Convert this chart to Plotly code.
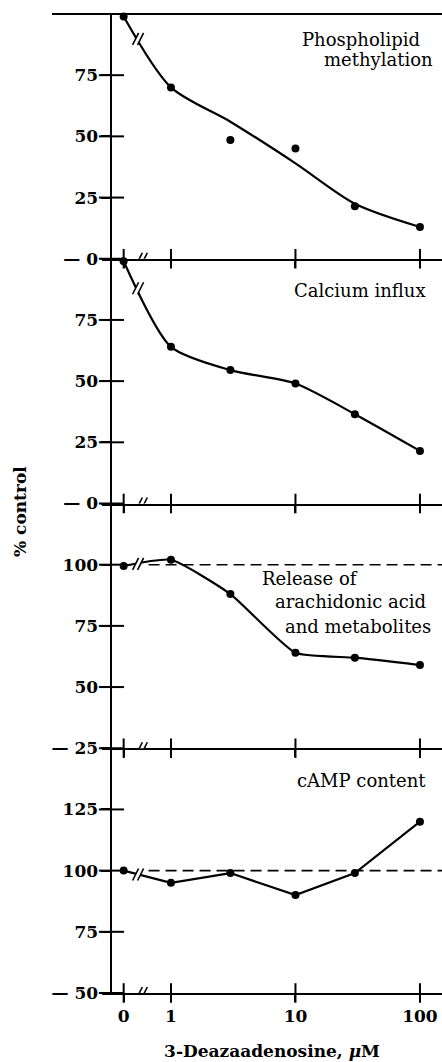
import numpy as np
import plotly.graph_objects as go

# ---------------- data ----------------
conc = [0, 1, 3, 10, 30, 100]                       # 3-Deazaadenosine, µM
methylation_pts = [99, 70, 48.5, 45, 21.5, 13]      # measured points
methylation_fit = [99, 70, 56, 39, 22.5, 13]        # drawn fitted curve
calcium = [99, 64, 54.5, 49, 36.5, 21.5]
arachidonic = [99.5, 102, 88, 64, 62, 59]
camp = [100, 95, 99, 90, 99, 120]

x_tick_conc = [0, 1, 10, 100]
x_tick_labels = ["0", "1", "10", "100"]

panel_ranges = [[0, 100], [0, 100], [25, 125], [50, 150]]
panel_tickvals = [[0, 25, 50, 75], [0, 25, 50, 75], [25, 50, 75, 100], [50, 75, 100, 125]]
panel_ticktext = [["— 0", "25", "50", "75"], ["— 0", "25", "50", "75"],
                  ["— 25", "50", "75", "100"], ["— 50", "75", "100", "125"]]
reference_level = [None, None, 100, 100]

# ---------------- axis geometry ----------------
W, H = 442, 1062
L, R, T, B = 102, 0, 14, 69
ZERO_POS = -0.38           # where "0" sits on the broken log axis
X_RANGE = [-0.554, 2.177]
Y_AXIS_X = -0.478          # data-x where the y axis is drawn
AXIS_BREAK_X = -0.23
LINE_BREAK_X = -0.26


def xpos(c):
    return [ZERO_POS if v == 0 else float(np.log10(v)) for v in c]


X = xpos(conc)
XT = xpos(x_tick_conc)
yaxis_pos = (Y_AXIS_X - X_RANGE[0]) / (X_RANGE[1] - X_RANGE[0])

FONT = "DejaVu Serif"
tickfont = dict(family=FONT, size=17, color="black", weight="bold")
lblfont = dict(family=FONT, size=18, color="black")

fig = go.Figure()

domains = [[0.75, 1.0], [0.5, 0.75], [0.25, 0.5], [0.0, 0.25]]
line_series = [methylation_fit, calcium, arachidonic, camp]
point_series = [methylation_pts, calcium, arachidonic, camp]
line_shapes = ["spline", "spline", "spline", "linear"]
smooth = [0.8, 0.7, 0.5, 0]

for i in range(4):
    n = i + 1
    xa = "x" if n == 1 else f"x{n}"
    ya = "y" if n == 1 else f"y{n}"
    lo = panel_ranges[i][0]
    # reference dashed line
    if reference_level[i] is not None:
        fig.add_trace(go.Scatter(x=[AXIS_BREAK_X + 0.05, X_RANGE[1]],
                                 y=[reference_level[i]] * 2, mode="lines",
                                 line=dict(color="black", width=1.6, dash="11px,6px"),
                                 xaxis=xa, yaxis=ya, showlegend=False, hoverinfo="skip"))
    # curve
    ln = dict(color="black", width=2.2, shape=line_shapes[i])
    if line_shapes[i] == "spline":
        ln["smoothing"] = smooth[i]
    fig.add_trace(go.Scatter(x=X, y=line_series[i], mode="lines", line=ln,
                             xaxis=xa, yaxis=ya, showlegend=False, cliponaxis=False))
    # points
    fig.add_trace(go.Scatter(x=X, y=point_series[i], mode="markers",
                             marker=dict(color="black", size=8),
                             xaxis=xa, yaxis=ya, showlegend=False, cliponaxis=False))
    # crossing tick marks on x axis
    fig.add_trace(go.Scatter(x=XT, y=[lo] * len(XT), mode="markers",
                             marker=dict(symbol="line-ns", size=14,
                                         line=dict(color="black", width=2)),
                             xaxis=xa, yaxis=ya, showlegend=False, cliponaxis=False,
                             hoverinfo="skip"))
    # crossing tick marks on y axis
    fig.add_trace(go.Scatter(x=[Y_AXIS_X] * len(panel_tickvals[i]), y=panel_tickvals[i],
                             mode="markers",
                             marker=dict(symbol="line-ew", size=18,
                                         line=dict(color="black", width=2)),
                             xaxis=xa, yaxis=ya, showlegend=False, cliponaxis=False,
                             hoverinfo="skip"))

    fig.layout[f"xaxis{'' if n == 1 else n}"] = dict(
        domain=[0, 1], anchor=ya, range=X_RANGE, showgrid=False, zeroline=False,
        showline=True, linecolor="black", linewidth=2,
        ticks="outside", ticklen=7, tickwidth=2, tickcolor="black",
        tickvals=XT, ticktext=x_tick_labels, showticklabels=(n == 4),
        tickfont=tickfont)
    fig.layout[f"yaxis{'' if n == 1 else n}"] = dict(
        domain=domains[i], anchor="free", position=yaxis_pos, range=panel_ranges[i],
        showgrid=False, zeroline=False, showline=True, linecolor="black", linewidth=2,
        ticks="outside", ticklen=9, tickwidth=2, tickcolor="black",
        tickvals=panel_tickvals[i], ticktext=panel_ticktext[i], tickfont=tickfont)

    # break marks ("//") on the x axis and on the curve
    y_line_break = float(np.interp(LINE_BREAK_X, X[:2], line_series[i][:2]))
    for bx, by in [(AXIS_BREAK_X, lo), (LINE_BREAK_X, y_line_break)]:
        common = dict(xref=xa, yref=ya, xsizemode="pixel", ysizemode="pixel",
                      xanchor=bx, yanchor=by, layer="above")
        fig.add_shape(type="path", path="M -6,-6 L 0,6 L 5,6 L -1,-6 Z",
                      fillcolor="white", line=dict(width=0), **common)
        fig.add_shape(type="line", x0=-6, y0=-6, x1=0, y1=6,
                      line=dict(color="black", width=1.6), **common)
        fig.add_shape(type="line", x0=-1, y0=-6, x1=5, y1=6,
                      line=dict(color="black", width=1.6), **common)

# top frame line of the first panel
fig.add_shape(type="line", xref="paper", yref="paper", x0=(52 - L) / (W - L - R), x1=1,
              y0=1, y1=1, line=dict(color="black", width=2))

# x axis title
fig.layout.xaxis4.title = dict(text="3-Deazaadenosine, <i>μ</i>M",
                               font=dict(family=FONT, size=17, color="black", weight="bold"),
                               standoff=20)


def px_to_paper(px, py):
    return (px - L) / (W - L - R), (H - B - py) / (H - T - B)


labels = [("Phospholipid", 361, 39), ("methylation", 378, 60),
          ("Calcium influx", 360, 290),
          ("Release of", 310, 578), ("arachidonic acid", 350, 601),
          ("and metabolites", 358, 626),
          ("cAMP content", 361, 780)]
for text, px, py in labels:
    ax, ay = px_to_paper(px, py)
    fig.add_annotation(text=text, x=ax, y=ay, xref="paper", yref="paper",
                       showarrow=False, xanchor="center", yanchor="middle", font=lblfont)

ax, ay = px_to_paper(20, 512)
fig.add_annotation(text="% control", x=ax, y=ay, xref="paper", yref="paper",
                   showarrow=False, textangle=-90, xanchor="center", yanchor="middle",
                   font=dict(family=FONT, size=17, color="black", weight="bold"))

fig.update_layout(width=W, height=H, margin=dict(l=L, r=R, t=T, b=B),
                  paper_bgcolor="white", plot_bgcolor="white", showlegend=False)

fig.write_html("out.html", config={"displayModeBar": False},
               post_script="document.body.style.margin='0px';"
                           "document.body.style.overflow='hidden';")
